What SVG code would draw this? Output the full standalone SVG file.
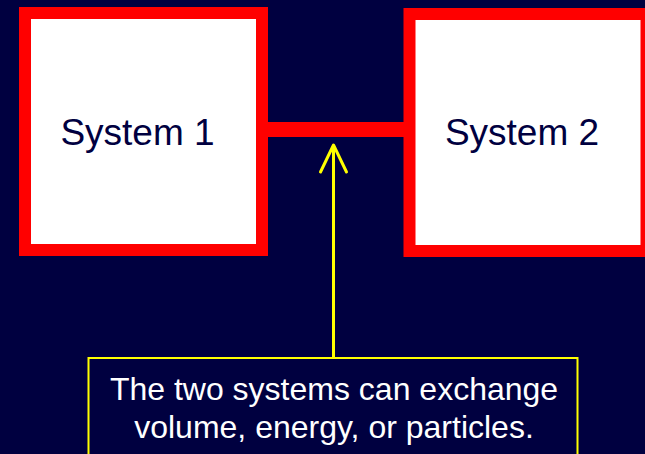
<svg xmlns="http://www.w3.org/2000/svg" width="645" height="454" viewBox="0 0 645 454">
<style>
.sys{fill:#ffffff;stroke:#ff0000;stroke-width:12}
.lbl{font-family:"Liberation Sans",Arial,sans-serif;font-size:37px;fill:#000040;text-anchor:middle}
.note{font-family:"Liberation Sans",Arial,sans-serif;font-size:32px;fill:#ffffff;text-anchor:middle}
</style>
<rect width="645" height="454" fill="#000040"/>
<g id="connectors">
<line x1="262" y1="129.5" x2="410" y2="129.5" stroke="#ff0000" stroke-width="15"/>
<line x1="333.5" y1="358" x2="333.5" y2="145" stroke="#ffff00" stroke-width="3"/>
<polyline points="320.5,172 333.5,145 346.5,172" fill="none" stroke="#ffff00" stroke-width="3" stroke-linecap="round" stroke-linejoin="round"/>
</g>
<g id="system1">
<rect class="sys" x="25" y="13" width="237" height="237"/>
<text class="lbl" x="137.5" y="145">System 1</text>
</g>
<g id="system2">
<rect class="sys" x="409.5" y="14" width="237" height="237"/>
<text class="lbl" x="522" y="145">System 2</text>
</g>
<g id="note">
<rect x="88.5" y="358" width="489" height="110" fill="#000040" stroke="#ffff00" stroke-width="2"/>
<text class="note" x="334" y="400">The two systems can exchange</text>
<text class="note" x="334" y="438">volume, energy, or particles.</text>
</g>
</svg>
